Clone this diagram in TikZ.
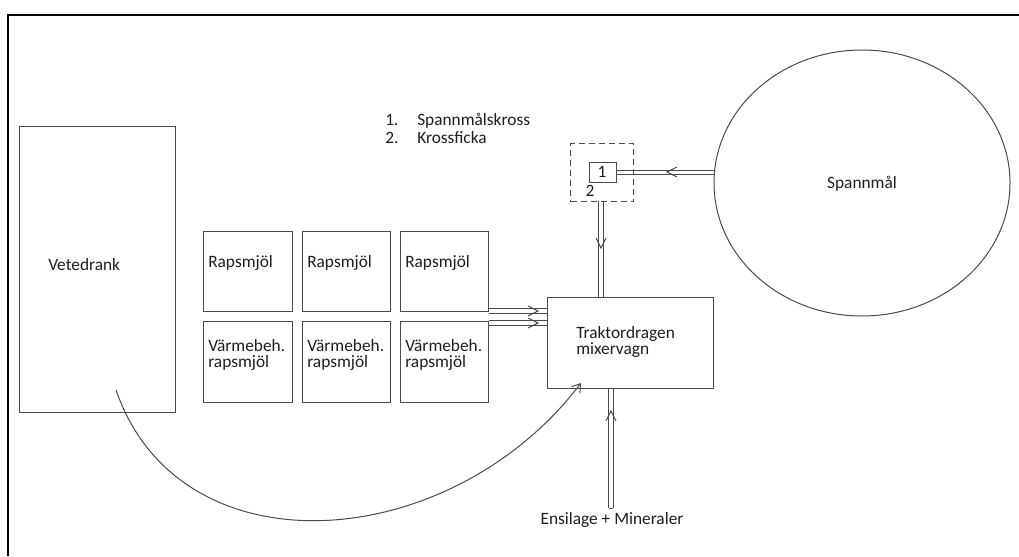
\documentclass[tikz,border=0pt]{standalone}
\usepackage{fontspec}
\setmainfont{Carlito}
\usetikzlibrary{arrows.meta,calc,shapes.geometric}
\definecolor{linec}{HTML}{4A4A4A}
\definecolor{txtc}{HTML}{1E1E1E}
\pgfdeclarelayer{bg}
\pgfsetlayers{bg,main}
\begin{document}
\begin{tikzpicture}[x=0.75pt,y=-0.75pt,
  box/.style={draw=linec, line width=0.75pt, inner sep=0pt, fill=white},
  txt/.style={text=txtc, font=\fontsize{13}{12.5}\selectfont, inner sep=0pt, anchor=base west, align=left},
  pipe/.style={draw=linec, line width=0.75pt, double=white, double distance=2.7pt},
  chev/.style={draw=linec, line width=0.75pt},
  curvearrow/.style={draw=linec, line width=0.75pt, -{Straight Barb[length=6pt,width=8pt]}}]
\useasboundingbox (0,0) rectangle (1019,556);
% outer frame
\draw[black, line width=1.6pt] (8,556) -- (8,15) -- (1019,15);
% Vetedrank
\node[box, minimum width=156*0.75, minimum height=286*0.75, anchor=north west] (vd) at (19,126) {};
\node[txt] (vdt) at (48,270) {Vetedrank};
% Rapsmjöl boxes
\node[box, minimum width=89*0.75, minimum height=80*0.75, anchor=north west] (r1) at (203,231) {};
\node[box, minimum width=88*0.75, minimum height=80*0.75, anchor=north west] (r2) at (302,231) {};
\node[box, minimum width=88*0.75, minimum height=80*0.75, anchor=north west] (r3) at (400,231) {};
\node[box, minimum width=89*0.75, minimum height=81*0.75, anchor=north west] (v1) at (203,321) {};
\node[box, minimum width=88*0.75, minimum height=81*0.75, anchor=north west] (v2) at (302,321) {};
\node[box, minimum width=88*0.75, minimum height=81*0.75, anchor=north west] (v3) at (400,321) {};
\node[txt] (r1t) at (208,267) {Rapsmjöl};
\node[txt] (r2t) at (307,267) {Rapsmjöl};
\node[txt] (r3t) at (405,267) {Rapsmjöl};
\node[txt, anchor=north west] (v1t) at (208,339) {Värmebeh.\\rapsmjöl};
\node[txt, anchor=north west] (v2t) at (307,339) {Värmebeh.\\rapsmjöl};
\node[txt, anchor=north west] (v3t) at (405,339) {Värmebeh.\\rapsmjöl};
% mixer
\node[box, minimum width=166*0.75, minimum height=91*0.75, anchor=north west] (mx) at (547,297) {};
\node[txt, anchor=north west] (mxt) at (576,326) {Traktordragen\\mixervagn};
% crusher
\node[draw=linec, line width=0.75pt, dash pattern=on 4.5pt off 3pt, minimum width=63*0.75, minimum height=58*0.75, anchor=north west, inner sep=0pt] (dbox) at (570,143) {};
\node[box, minimum width=27*0.75, minimum height=20*0.75, anchor=north west] (b1) at (589,162) {};
\node[txt, anchor=center] (b1t) at (602,172) {1};
\node[txt, anchor=center] (b2t) at (590,191) {2};
% legend
\node[txt] (l1n) at (385,126) {1.};
\node[txt] (l1) at (417,126) {Spannmålskross};
\node[txt] (l2n) at (385,143) {2.};
\node[txt] (l2) at (417,143) {Krossficka};
% grain
\node[draw=linec, line width=0.75pt, ellipse, minimum width=296*0.75, minimum height=266*0.75, inner sep=0pt] (sp) at (862,183) {};
\node[txt, anchor=center] (spt) at (862,184) {Spannmål};
% bottom label
\node[txt, anchor=center] (ens) at (612,520) {Ensilage + Mineraler};
\coordinate (ensTop) at (611,508);
% pipes
\begin{pgfonlayer}{bg}
\draw[pipe] (b1.east) -- (b1.east -| sp.west);
\draw[pipe] (601,201) -- (601,297);
\coordinate (p1s) at ($(r3.south east)+(0,-1)$);
\coordinate (p2s) at ($(v3.north east)+(0,2)$);
\draw[pipe] (p1s) -- (p1s -| mx.west);
\draw[pipe] (p2s) -- (p2s -| mx.west);
\draw[pipe] (ensTop) -- (ensTop |- mx.south);
\end{pgfonlayer}
\draw[chev] ($(ensTop)+(-2.4,0)$) -- ($(ensTop)+(2.4,0)$);
% chevrons
\coordinate (c1) at (667,172);
\draw[chev] ($(c1)+(10,-5)$) -- (c1) -- ($(c1)+(10,5)$);
\coordinate (c2) at (601,248);
\draw[chev] ($(c2)+(-5,-10)$) -- (c2) -- ($(c2)+(5,-10)$);
\coordinate (c3) at ($(p1s)+(49,0)$);
\draw[chev] ($(c3)+(-10,-5)$) -- (c3) -- ($(c3)+(-10,5)$);
\coordinate (c4) at ($(p2s)+(49,0)$);
\draw[chev] ($(c4)+(-10,-5)$) -- (c4) -- ($(c4)+(-10,5)$);
\coordinate (c5) at (611,411);
\draw[chev] ($(c5)+(-5,10)$) -- (c5) -- ($(c5)+(5,10)$);
% curve
\coordinate (cs) at (116,390);
\coordinate (ce) at (581,383);
\draw[curvearrow] (cs) .. controls (180,575) and (450,555) .. (ce);
\end{tikzpicture}
\end{document}
